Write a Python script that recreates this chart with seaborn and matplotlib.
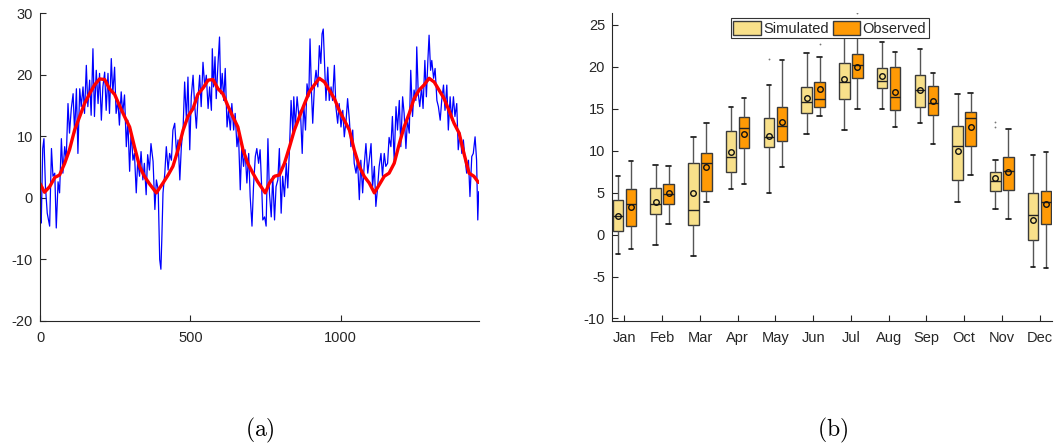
import numpy as np
import pandas as pd
import matplotlib
matplotlib.use("Agg")
import matplotlib.pyplot as plt
import seaborn as sns

# ---------------- (a) daily temperature series ----------------
obs_days = [
    2, 4, 9, 13, 18, 24, 32, 38, 43, 49, 54, 60, 65, 71, 76, 82, 87, 93, 98, 104,
    110, 115, 121, 126, 132, 137, 143, 148, 154, 159, 165, 170, 176, 181, 187, 193, 198, 204, 209, 215,
    220, 226, 231, 237, 242, 248, 253, 259, 264, 270, 275, 281, 287, 292, 298, 303, 309, 314, 320, 325,
    331, 336, 342, 347, 353, 358, 364, 369,
    376, 382, 387, 393, 398, 402, 405, 409, 415, 420, 426, 431, 437, 442, 448, 454, 459, 465, 470, 476,
    481, 487, 492, 498, 503, 509, 514, 520, 525, 531, 536, 542, 548, 553, 559, 564, 570, 573, 577, 582,
    586, 592, 597, 601, 606, 611, 616, 622, 627, 633, 638, 644, 649, 655, 660, 666, 671, 677, 682, 688,
    694, 699, 705, 710, 716, 721, 727, 732, 738,
    741, 747, 752, 758, 763, 769, 774, 780, 785, 791, 796, 802, 807, 813, 819, 824, 830, 835, 841, 844,
    849, 855, 861, 866, 872, 877, 883, 888, 894, 898, 903, 907, 913, 918, 924, 929, 934, 938, 942, 947,
    951, 957, 962, 968, 973, 979, 984, 990, 995, 1001, 1007, 1012, 1018, 1023, 1029, 1034, 1040, 1045,
    1051, 1056, 1062, 1067, 1073, 1078, 1084, 1090,
    1095, 1101, 1106, 1112, 1117, 1123, 1128, 1134, 1139, 1145, 1150, 1156, 1161, 1167, 1172, 1178,
    1184, 1189, 1195, 1200, 1206, 1211, 1217, 1222, 1228, 1233, 1239, 1244, 1250, 1253, 1258, 1263,
    1269, 1274, 1280, 1285, 1290, 1294, 1299, 1303, 1309, 1314, 1320, 1325, 1331, 1336, 1342, 1347,
    1353, 1358, 1364, 1369, 1375, 1380, 1386, 1391, 1397, 1403, 1408, 1414, 1419, 1425, 1430, 1436,
    1441, 1447, 1452, 1456, 1459,
]
obs_temp = [
    0.0, -4.1, 8.0, 9.6, 1.8, -2.5, -4.6, 8.0, 3.5, 4.0, -4.9, 2.6, 0.8, 9.6, 4.0, 8.3, 6.1, 15.3, 10.5, 14.5,
    16.9, 10.5, 17.7, 7.2, 17.7, 14.8, 18.0, 13.7, 21.5, 14.8, 19.1, 13.4, 24.2, 13.2, 20.7, 15.3, 20.2, 12.6, 18.0, 20.4,
    14.2, 20.2, 13.7, 22.6, 16.9, 21.2, 13.7, 15.8, 11.8, 17.2, 13.7, 16.7, 8.3, 12.6, 4.3, 11.0, 6.1, 7.2, 0.8, 6.1,
    3.5, 7.5, 2.9, 5.6, 0.5, 7.0, 4.5, 8.8,
    5.9, -1.9, 2.9, 1.3, -10.0, -11.6, -6.8, 0.8, 4.0, 8.3, 4.5, 7.2, 6.1, 11.0, 12.1, 7.2, 9.4, 2.9, 8.3, 11.5,
    18.8, 12.6, 19.6, 7.8, 16.4, 19.9, 15.3, 11.3, 15.8, 19.9, 14.8, 22.0, 18.0, 19.9, 14.5, 18.0, 14.2, 24.2, 18.0, 22.9,
    16.1, 21.8, 26.1, 16.9, 20.2, 15.8, 21.0, 11.5, 14.2, 11.0, 15.3, 11.0, 13.7, 8.3, 10.5, 1.3, 8.3, 5.1, 7.8, 2.4,
    7.2, 0.2, -4.6, 1.8, 6.7, 8.0, 5.6, 7.8, 0.8,
    -3.6, -3.1, -4.6, 9.6, 0.8, -3.1, 3.5, -3.6, 1.8, 2.9, 8.0, -2.5, 3.5, 0.2, 5.6, 1.6, 8.3, 15.8, 10.5, 16.4,
    11.5, 16.4, 13.2, 14.2, 7.2, 15.3, 11.0, 18.5, 16.4, 25.8, 16.9, 12.1, 18.5, 20.7, 18.0, 24.7, 21.8, 26.6, 27.4, 21.2,
    15.8, 21.2, 15.8, 18.0, 15.8, 21.5, 14.8, 12.1, 15.3, 11.5, 14.2, 9.9, 12.6, 16.1, 12.6, 8.3, 11.0, 5.6,
    4.0, 6.1, -0.3, 6.1, 0.8, 5.1, 8.8, 4.0,
    6.1, 8.8, 1.8, 5.1, -1.4, 1.8, 5.1, 7.2, 3.5, 7.2, 5.1, 5.6, 9.8, 8.3, 13.2, 6.1,
    14.8, 11.0, 15.8, 8.3, 16.4, 13.7, 8.0, 12.6, 10.5, 20.7, 13.2, 17.5, 15.8, 24.5, 16.9, 14.8,
    18.0, 14.5, 22.3, 16.4, 22.3, 26.4, 20.7, 22.3, 19.4, 21.0, 15.8, 14.8, 12.6, 15.8, 18.3, 14.2,
    18.3, 11.0, 16.4, 12.6, 16.4, 13.2, 15.3, 7.8, 10.5, 7.2, 9.4, 6.1, 4.0, 6.1, 0.2, 6.7,
    7.2, 9.9, 6.1, -3.6, 1.0,
]

# smoothed climatology
clim_days = [
    0, 15, 32, 49, 65, 82, 98, 115, 132, 148, 165, 181, 198, 215, 231, 248, 264, 281, 298, 314, 331, 347,
    365, 387, 409, 426, 442, 459, 476, 492, 509, 525, 542, 559, 575, 592, 608, 625, 641, 658, 675, 691,
    708, 724, 749, 763, 780, 796, 813, 830, 846, 863, 879, 896, 912, 929, 946, 962, 979, 995, 1012, 1029,
    1045, 1062, 1078, 1095, 1112, 1128, 1145, 1161, 1178, 1195, 1211, 1228, 1244, 1261, 1277, 1294, 1311,
    1327, 1344, 1360, 1377, 1394, 1410, 1427, 1443, 1458,
]
clim_temp = [
    2.3, 0.9, 1.8, 3.3, 3.7, 5.6, 7.8, 11.0, 13.2, 15.3, 16.9, 18.3, 19.3, 19.2, 17.7, 16.8, 15.0, 13.2, 11.5, 8.3, 5.1, 3.5,
    2.2, 0.8, 2.4, 3.7, 5.1, 7.8, 11.0, 13.2, 14.5, 16.8, 17.8, 19.1, 19.2, 17.7, 16.9, 14.9, 13.2, 11.5, 7.8, 5.6,
    4.0, 2.6, 0.8, 2.4, 3.5, 3.7, 5.6, 8.3, 11.0, 13.2, 15.2, 17.2, 18.3, 19.4, 18.8, 17.5, 16.1, 14.2, 12.6, 11.0,
    7.8, 5.1, 3.5, 2.4, 0.8, 2.1, 3.5, 4.0, 5.6, 8.8, 11.5, 13.7, 16.1, 17.5, 18.3, 19.4, 18.8,
    17.5, 16.1, 14.2, 12.1, 10.5, 7.2, 4.0, 3.5, 2.5,
]

# ---------------- (b) monthly box statistics ----------------
months = ["Jan", "Feb", "Mar", "Apr", "May", "Jun", "Jul", "Aug", "Sep", "Oct", "Nov", "Dec"]
sources = ["Simulated", "Observed"]

sim_lo = [-2.3, -1.2, -2.5, 5.4, 5.0, 12.0, 12.4, 15.0, 13.3, 3.9, 3.1, -3.9]
sim_q1 = [0.4, 2.5, 1.1, 7.4, 10.4, 14.5, 16.2, 17.5, 15.2, 6.5, 5.2, -0.6]
sim_med = [2.2, 3.7, 2.9, 9.3, 11.6, 15.8, 18.2, 18.3, 17.2, 10.6, 6.4, 2.3]
sim_q3 = [4.1, 5.6, 8.5, 12.3, 13.9, 17.6, 20.5, 19.9, 19.0, 12.9, 7.5, 4.9]
sim_hi = [7.0, 8.3, 11.6, 15.2, 17.8, 21.6, 24.5, 22.9, 22.1, 16.8, 8.9, 9.5]
sim_mean = [2.2, 3.9, 4.9, 9.8, 11.7, 16.3, 18.5, 18.9, 17.2, 10.0, 6.7, 1.7]

obs_lo = [-1.7, 1.3, 3.9, 6.0, 8.0, 14.1, 15.0, 12.8, 10.8, 7.1, 1.8, -4.0]
obs_q1 = [1.0, 3.6, 5.2, 10.3, 11.2, 15.2, 18.7, 14.8, 14.3, 10.6, 5.3, 1.2]
obs_med = [3.6, 4.8, 8.5, 12.7, 12.9, 16.2, 20.2, 16.4, 15.7, 13.9, 7.6, 3.9]
obs_q3 = [5.4, 6.0, 9.7, 14.0, 15.2, 18.2, 21.5, 20.0, 17.7, 14.6, 9.2, 5.2]
obs_hi = [8.8, 8.2, 13.3, 16.3, 20.8, 21.1, 24.0, 21.8, 19.2, 16.9, 12.6, 9.8]
obs_mean = [3.3, 4.9, 8.0, 12.0, 13.4, 17.3, 20.0, 17.0, 15.9, 12.8, 7.5, 3.6]

# isolated outlying values (month, source, value)
out_month = ["May", "Nov", "Nov", "Jun", "Jul"]
out_source = ["Simulated", "Simulated", "Simulated", "Observed", "Observed"]
out_value = [20.9, 13.4, 12.8, 22.7, 26.4]

colors = {"Simulated": "#F8E08A", "Observed": "#FF9A05"}

# ---------------- style ----------------
sns.set_theme(style="ticks")
plt.rcParams["font.family"] = ["Liberation Sans", "DejaVu Sans"]
plt.rcParams["mathtext.fontset"] = "cm"
plt.rcParams["axes.unicode_minus"] = False
ink = "#262626"

fig = plt.figure(figsize=(10.59, 4.47), dpi=100)
ax1 = fig.add_axes([0.0378, 0.2819, 0.4145, 0.689])
ax2 = fig.add_axes([0.5779, 0.2819, 0.4155, 0.689])

# ---- panel (a)
sns.lineplot(x=obs_days, y=obs_temp, ax=ax1, color="#0000FF", lw=0.9,
             estimator=None, sort=False)
sns.lineplot(x=clim_days, y=clim_temp, ax=ax1, color="#FF0000", lw=2.4,
             estimator=None, sort=False)
ax1.set_xlim(0, 1460)
ax1.set_ylim(-20, 30)
ax1.set_xticks([0, 500, 1000])
ax1.set_yticks([-20, -10, 0, 10, 20, 30])

# ---- panel (b): each group is described by its five summary values
rows = []
for i, m in enumerate(months):
    for src, stats in (("Simulated", (sim_lo, sim_q1, sim_med, sim_q3, sim_hi)),
                       ("Observed", (obs_lo, obs_q1, obs_med, obs_q3, obs_hi))):
        for s in stats:
            rows.append({"month": m, "source": src, "temp": s[i]})
box_df = pd.DataFrame(rows)

box_width = 0.69
box_gap = 0.2
sns.boxplot(data=box_df, x="month", y="temp", hue="source", order=months,
            hue_order=sources, palette=colors, saturation=1, whis=(0, 100),
            width=box_width, gap=box_gap, showfliers=False, linewidth=1.0,
            linecolor="#3a3a3a", ax=ax2,
            whiskerprops=dict(color="#555555", lw=1.0),
            capprops=dict(color="#111111", lw=1.2),
            medianprops=dict(color="#222222", lw=1.0))

# shorten caps
for line in ax2.lines:
    xd = np.asarray(line.get_xdata(), dtype=float)
    yd = np.asarray(line.get_ydata(), dtype=float)
    if len(xd) == 2 and yd[0] == yd[1] and line.get_color() == "#111111":
        c = xd.mean()
        line.set_xdata([c - 0.06, c + 0.06])

# means and outlying values
offset = {"Simulated": -box_width / 4, "Observed": box_width / 4}
pos = {m: i for i, m in enumerate(months)}
for src, means in (("Simulated", sim_mean), ("Observed", obs_mean)):
    xs = [pos[m] + offset[src] for m in months]
    ax2.plot(xs, means, ls="none", marker="o", ms=4.0, mfc="none",
             mec="#111111", mew=1.0, zorder=5)
ox = [pos[m] + offset[s] for m, s in zip(out_month, out_source)]
ax2.plot(ox, out_value, ls="none", marker="o", ms=1.3, mfc="#777777",
         mec="none", zorder=5)

ax2.set_xlim(-0.33, 11.33)
ax2.set_ylim(-10.3, 26.4)
ax2.set_yticks([-10, -5, 0, 5, 10, 15, 20, 25])
ax2.set_xlabel("")
ax2.set_ylabel("")

sns.move_legend(ax2, "upper center", bbox_to_anchor=(0.495, 0.985), ncol=2,
                title=None, frameon=True, fancybox=False, framealpha=1,
                handlelength=1.9, handleheight=1.1, handletextpad=0.15,
                columnspacing=0.25, borderpad=0.2, borderaxespad=0,
                fontsize=10.5)
leg = ax2.get_legend()
leg.get_frame().set_edgecolor("#333333")
leg.get_frame().set_linewidth(0.8)
leg.set_zorder(10)

for ax in (ax1, ax2):
    sns.despine(ax=ax)
    for sp in ("left", "bottom"):
        ax.spines[sp].set_color(ink)
        ax.spines[sp].set_linewidth(0.8)
    ax.tick_params(direction="in", length=4, width=0.8, colors=ink,
                   labelsize=10.5)
    ax.tick_params(axis="x", pad=7)
    ax.tick_params(axis="y", pad=5)
    ax.grid(False)

fig.text(260 / 1059, 1 - 430 / 447, r"$\mathrm{(a)}$", ha="center", va="center",
         fontsize=17, color="black")
fig.text(833 / 1059, 1 - 430 / 447, r"$\mathrm{(b)}$", ha="center", va="center",
         fontsize=17, color="black")

fig.savefig("out.png", dpi=100)
